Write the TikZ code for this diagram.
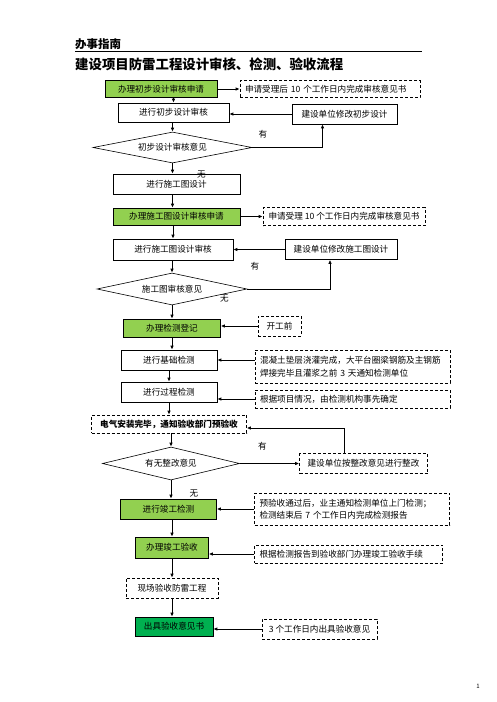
\documentclass[tikz,border=0pt]{standalone}
\usepackage{fontspec}
\setmainfont{Noto Sans CJK SC}
\usetikzlibrary{positioning, shapes.geometric, arrows.meta}
\definecolor{lgreen}{HTML}{92D050}
\definecolor{dgreen}{HTML}{00B050}

\begin{document}
\begin{tikzpicture}
  [x=1pt, y=1pt, on grid, >={Latex[length=4pt,width=3.5pt]},
   every node/.style={font=\fontsize{8.6pt}{10pt}\selectfont, inner sep=0pt},
   box/.style={draw, line width=0.6pt, minimum height=20pt},
   apply/.style={box, fill=lgreen},
   note/.style={draw, line width=0.6pt, dash pattern=on 3pt off 2pt, inner xsep=5pt, align=left},
   check/.style={draw, line width=0.6pt, diamond, aspect=4.5},
   link/.style={->, line width=0.8pt}]
   \useasboundingbox (0,0) rectangle (496,-702);

   % heading
   \node[anchor=west, font=\bfseries\fontsize{11.5pt}{12pt}\selectfont] (head) at (75,-44) {办事指南};
   \draw[line width=1.1pt] (75,-51.5) -- (422,-51.5);
   \node[anchor=west, font=\bfseries\fontsize{13.4pt}{14pt}\selectfont] (title) at (75,-64.5) {建设项目防雷工程设计审核、检测、验收流程};

   % design review
   \node[apply, minimum width=112pt, minimum height=17pt] (a_1) at (161,-89) {办理初步设计审核申请};
   \node[note, text width=170pt, minimum height=17pt] (d_1) [right=169pt of a_1] {申请受理后 10 个工作日内完成审核意见书};
   \node[box, minimum width=111pt, minimum height=19pt] (a_2) [below=23.5pt of a_1, xshift=12.5pt] {进行初步设计审核};
   \node[box, minimum width=105pt] (r_1) [right=171pt of a_2, yshift=-1.5pt] {建设单位修改初步设计};
   \node[check, minimum width=159pt, minimum height=31pt] (q_1) [below=35pt of a_2, xshift=-1pt] {初步设计审核意见};
   \node[box, minimum width=127pt] (a_3) [below=36.5pt of q_1, xshift=4pt] {进行施工图设计};
   \node[apply, minimum width=127pt, minimum height=17pt] (a_4) [below=32.5pt of a_3] {办理施工图设计审核申请};
   \node[note, minimum width=162pt, minimum height=18pt] (d_2) [right=167.5pt of a_4] {申请受理 10 个工作日内完成审核意见书};
   \node[box, minimum width=120pt, minimum height=21pt] (a_5) [below=33pt of a_4, xshift=-3.5pt] {进行施工图设计审核};
   \node[box, minimum width=112pt] (r_2) [right=168pt of a_5] {建设单位修改施工图设计};
   \node[check, minimum width=150pt, minimum height=32pt] (q_2) [below=39.5pt of a_5, xshift=-1pt] {施工图审核意见};

   % testing
   \node[apply, minimum width=97pt, minimum height=18pt] (a_6) [below=39pt of q_2] {办理检测登记};
   \node[note, minimum width=43pt, minimum height=20pt] (d_3) [right=107.5pt of a_6, yshift=2pt] {开工前};
   \node[box, minimum width=96pt] (a_7) [below=32pt of a_6, xshift=-3pt] {进行基础检测};
   \node[note, text width=185pt, minimum height=33pt, font=\fontsize{8.6pt}{12.5pt}\selectfont] (d_4) [right=183.5pt of a_7, yshift=-6.5pt] {混凝土垫层浇灌完成，大平台圈梁钢筋及主钢筋\\焊接完毕且灌浆之前 3 天通知检测单位};
   \node[box, minimum width=96pt] (a_8) [below=32pt of a_7] {进行过程检测};
   \node[note, text width=185pt, minimum height=18pt] (d_5) [right=183.5pt of a_8, yshift=-7pt] {根据项目情况，由检测机构事先确定};
   \node[note, minimum width=155pt, minimum height=18pt, font=\bfseries\fontsize{8.6pt}{10pt}\selectfont] (a_9) [below=32pt of a_8] {电气安装完毕，通知验收部门预验收};
   \node[check, minimum width=137pt, minimum height=33pt] (q_3) [below=39.5pt of a_9, xshift=2pt] {有无整改意见};
   \node[note, minimum width=128pt, minimum height=20pt] (r_3) [right=192.5pt of q_3] {建设单位按整改意见进行整改};
   \node[apply, minimum width=96pt] (a_10) [below=45.5pt of q_3, xshift=-2.5pt] {进行竣工检测};
   \node[note, text width=185pt, minimum height=32pt, font=\fontsize{8.6pt}{12pt}\selectfont] (d_6) [right=183.5pt of a_10] {预验收通过后，业主通知检测单位上门检测；\\检测结束后 7 个工作日内完成检测报告};

   % acceptance
   \node[apply, minimum width=73pt, minimum height=21pt] (a_11) [below=38.5pt of a_10, xshift=3.5pt] {办理竣工验收};
   \node[note, text width=178pt, minimum height=18pt] (d_7) [right=176.5pt of a_11, yshift=-6.5pt] {根据检测报告到验收部门办理竣工验收手续};
   \node[note, minimum width=92pt, minimum height=20pt] (a_12) [below=40.5pt of a_11] {现场验收防雷工程};
   \node[box, fill=dgreen, minimum width=78pt, minimum height=19pt] (a_13) [below=38.5pt of a_12, xshift=2pt] {出具验收意见书};
   \node[note, minimum width=115pt, minimum height=20pt] (d_8) [right=145.5pt of a_13, yshift=-2.5pt] {3 个工作日内出具验收意见};

   % yes / no labels
   \node (y_1) [above right=9.5pt and 6pt of q_1.east] {有};
   \node (n_1) [below right=7pt and 24.5pt of q_1.south] {无};
   \node (y_2) [above right=19pt and 3pt of q_2.east] {有};
   \node (n_2) [above right=3pt and 48pt of q_2.south] {无};
   \node (y_3) [above right=13.5pt and 18pt of q_3.east] {有};
   \node (n_3) [below right=9pt and 18.5pt of q_3.south] {无};
   \node[font=\fontsize{6pt}{7pt}\selectfont] (page) at (478,-686) {1};

   \path[link]
    (a_1) edge (d_1)
    (a_1.south -| a_2.north) edge (a_2.north)
    (r_1.west) edge (r_1.west -| a_2.east)
    (a_2.south -| q_1.north) edge (q_1.north)
    (q_1.south) edge (q_1.south |- a_3.north)
    (a_3.south -| q_1.south) edge (a_4.north -| q_1.south)
    (a_4.east) edge (a_4.east -| d_2.west)
    (a_4.south -| a_5.north) edge (a_5.north)
    (r_2.west) edge (r_2.west -| a_5.east)
    (a_5.south -| q_2.north) edge (q_2.north)
    (q_2.south) edge (q_2.south |- a_6.north)
    (d_3.west) edge (d_3.west -| a_6.east)
    (a_6.south) edge (a_6.south |- a_7.north)
    (a_7.east -| d_4.west) edge (a_7.east)
    (a_7) edge (a_8)
    (d_5.west) edge (d_5.west -| a_8.east)
    (a_8) edge (a_9)
    (a_9.south -| q_3.north) edge (q_3.north)
    (q_3) edge (r_3)
    (q_3.south) edge (q_3.south |- a_10.north)
    (a_10.east -| d_6.west) edge (a_10.east)
    (a_10.south -| a_11.north) edge (a_11.north)
    (d_7.west) edge (d_7.west -| a_11.east)
    (a_11) edge (a_12)
    (a_12.south) edge (a_12.south |- a_13.north)
    (d_8.west) edge (d_8.west -| a_13.east);

   \draw[link] (q_1.east) -| ([xshift=-22pt]r_1.south);
   \draw[link] (q_2.east) -| ([xshift=-11pt]r_2.south);
   \draw[link] ([xshift=-19pt]r_3.north) |- ([yshift=-4pt]a_9.east);

\end{tikzpicture}
\end{document}
